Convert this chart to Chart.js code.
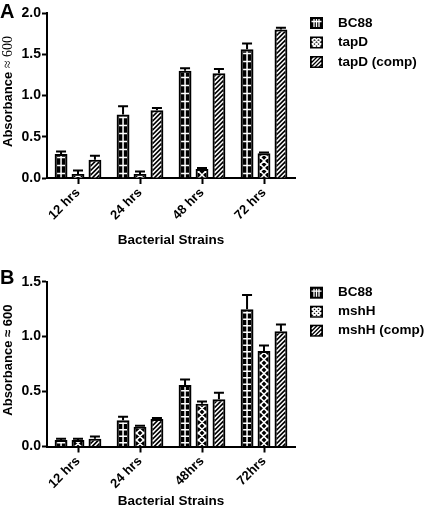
<!DOCTYPE html>
<html>
<head>
<meta charset="utf-8">
<script src="https://cdn.jsdelivr.net/npm/chart.js@4"></script>
<style>
  body { margin: 0; background: #fff; }
  .panel { position: absolute; left: 0; width: 425px; height: 255px; }
</style>
</head>
<body>
<div class="panel" style="top:0"><canvas id="chartA" width="425" height="255"></canvas></div>
<div class="panel" style="top:255px"><canvas id="chartB" width="425" height="255"></canvas></div>
<script>
// panel A
const timesA = ['12 hrs', '24 hrs', '48 hrs', '72 hrs'];
const bc88A = [0.29, 0.77, 1.30, 1.56];
const bc88ErrA = [0.03, 0.10, 0.03, 0.07];
const tapD = [0.05, 0.05, 0.11, 0.30];
const tapDErr = [0.04, 0.03, 0.01, 0.01];
const tapDComp = [0.22, 0.82, 1.27, 1.80];
const tapDCompErr = [0.05, 0.03, 0.05, 0.02];

// panel B
const timesB = ['12 hrs', '24 hrs', '48hrs', '72hrs'];
const bc88B = [0.06, 0.24, 0.56, 1.25];
const bc88ErrB = [0.01, 0.03, 0.05, 0.13];
const mshH = [0.06, 0.18, 0.39, 0.87];
const mshHErr = [0.01, 0.01, 0.02, 0.05];
const mshHComp = [0.07, 0.25, 0.43, 1.05];
const mshHCompErr = [0.02, 0.01, 0.06, 0.06];

const FONT = '"Liberation Sans", Arial, Helvetica, sans-serif';
const H = 255;

// white line fills inside a black bar
const drawPattern = (ctx, kind, x0, y0, x1, y1, steps) => {
    const w = x1 - x0;
    ctx.strokeStyle = '#fff';
    ctx.lineWidth = 1.5;
    ctx.beginPath();
    if (kind == 'plus') {
        const cx = (x0 + x1) / 2;
        ctx.moveTo(cx, y0); ctx.lineTo(cx, y1);
        for (let y = y1 - steps.plus / 2; y > y0; y -= steps.plus) {
            ctx.moveTo(x0 + 0.5, y); ctx.lineTo(x1 - 0.5, y);
        }
    } else if (kind == 'cross') {
        for (let y = y1 + w; y > y0 - w; y -= steps.cross) {
            ctx.moveTo(x0, y); ctx.lineTo(x1, y - w);
            ctx.moveTo(x0, y - w); ctx.lineTo(x1, y);
        }
    } else {
        for (let y = y1 + w; y > y0 - w; y -= steps.diag) {
            ctx.moveTo(x0, y); ctx.lineTo(x1, y - w);
        }
    }
    ctx.stroke();
}

const barsPlugin = {
    id: 'hatch',
    afterDatasetsDraw(chart, args, opts) {
        const ctx = chart.ctx;
        const yScale = chart.scales.y;
        chart.data.datasets.forEach((ds, i) => {
            chart.getDatasetMeta(i).data.forEach((bar, j) => {
                const p = bar.getProps(['x', 'y', 'base', 'width'], true);
                const x0 = p.x - p.width / 2 + 2, x1 = p.x + p.width / 2 - 2;
                const y0 = p.y + 2, y1 = p.base;
                if (y1 > y0) {
                    ctx.save();
                    ctx.beginPath();
                    ctx.rect(x0, y0, x1 - x0, y1 - y0);
                    ctx.clip();
                    drawPattern(ctx, ds.pattern, x0, y0, x1, y1, opts.steps);
                    ctx.restore();
                }
                // upper error bar
                const top = yScale.getPixelForValue(ds.data[j] + ds.errors[j]);
                ctx.save();
                ctx.strokeStyle = '#000';
                ctx.lineWidth = 2;
                ctx.beginPath();
                ctx.moveTo(p.x, p.y); ctx.lineTo(p.x, top);
                ctx.moveTo(p.x - 5, top); ctx.lineTo(p.x + 5, top);
                ctx.stroke();
                ctx.restore();
            });
        });
    }
};

const sidePlugin = {
    id: 'side',
    afterDraw(chart, args, opts) {
        const ctx = chart.ctx;
        const area = chart.chartArea;
        ctx.save();
        ctx.fillStyle = '#000';

        // panel letter
        ctx.font = 'bold 20px ' + FONT;
        ctx.textBaseline = 'alphabetic';
        ctx.fillText(opts.letter, 0, opts.letterY);

        // legend
        ctx.font = 'bold 13.5px ' + FONT;
        ctx.textBaseline = 'middle';
        chart.data.datasets.forEach((ds, i) => {
            const yc = opts.legendTop + i * opts.legendGap;
            const bx = 310, by = yc - 6, bw = 13, bh = 12;
            ctx.fillStyle = '#000';
            ctx.fillRect(bx, by, bw, bh);
            ctx.save();
            ctx.beginPath();
            ctx.rect(bx + 1.5, by + 1.5, bw - 3, bh - 3);
            ctx.clip();
            ctx.strokeStyle = '#fff';
            ctx.lineWidth = 1.3;
            if (ds.pattern == 'plus') {
                ctx.beginPath();
                ctx.moveTo(bx, by + 4.5); ctx.lineTo(bx + bw, by + 4.5);
                [4, 6.5, 9].forEach(dx => { ctx.moveTo(bx + dx, by + 2); ctx.lineTo(bx + dx, by + bh - 2); });
                ctx.stroke();
            } else {
                drawPattern(ctx, ds.pattern, bx + 1.5, by + 1.5, bx + bw - 1.5, by + bh - 1.5, { cross: 4, diag: 4 });
            }
            ctx.restore();
            ctx.fillStyle = '#000';
            ctx.fillText(ds.label, 338, yc);
        });

        // y axis title, mixed fonts
        ctx.translate(8, (area.top + area.bottom) / 2 + opts.titleShift);
        ctx.rotate(-Math.PI / 2);
        ctx.textBaseline = 'middle';
        let total = 0;
        opts.titleParts.forEach(t => { ctx.font = t.font; total += ctx.measureText(t.text).width; });
        let x = -total / 2;
        opts.titleParts.forEach(t => {
            ctx.font = t.font;
            ctx.fillText(t.text, x, t.dy || 0);
            x += ctx.measureText(t.text).width;
        });
        ctx.restore();
    }
};

const makeChart = (id, labels, sets, yMax, cfg) => {
    return new Chart(document.getElementById(id), {
        type: 'bar',
        data: {
            labels: labels,
            datasets: sets.map(s => ({
                label: s.label,
                data: s.data,
                errors: s.errors,
                pattern: s.pattern,
                backgroundColor: '#000',
                borderColor: '#000',
                borderWidth: 2,
                categoryPercentage: 0.82,
                barPercentage: 0.76
            }))
        },
        options: {
            responsive: false,
            devicePixelRatio: 1,
            animation: false,
            events: [],
            layout: { padding: { top: cfg.top, right: 130, left: 0, bottom: 0 } },
            plugins: {
                legend: { display: false },
                tooltip: { enabled: false },
                hatch: { steps: cfg.steps },
                side: cfg.side
            },
            scales: {
                x: {
                    offset: true,
                    grid: { drawOnChartArea: false, offset: false, tickLength: 6, tickWidth: 2, tickColor: '#000' },
                    border: { color: '#000', width: 2 },
                    ticks: {
                        color: '#000', padding: 1,
                        minRotation: 45, maxRotation: 45,
                        font: { family: FONT, size: 13, weight: 'bold' }
                    },
                    title: {
                        display: true, text: 'Bacterial Strains', color: '#000',
                        font: { family: FONT, size: 13.5, weight: 'bold' },
                        padding: { top: 0, bottom: cfg.titlePad }
                    },
                    afterFit: (scale) => { scale.height = H - cfg.bottom; }
                },
                y: {
                    min: 0,
                    max: yMax,
                    grid: { drawOnChartArea: false, tickLength: 5, tickWidth: 2, tickColor: '#000' },
                    border: { color: '#000', width: 2 },
                    ticks: {
                        stepSize: 0.5, color: '#000', padding: 1,
                        font: { family: FONT, size: 14, weight: 'bold' },
                        callback: (v) => v.toFixed(1)
                    },
                    afterFit: (scale) => { scale.width = 47; }
                }
            }
        },
        plugins: [barsPlugin, sidePlugin]
    });
}

makeChart('chartA', timesA, [
    { label: 'BC88', data: bc88A, errors: bc88ErrA, pattern: 'plus' },
    { label: 'tapD', data: tapD, errors: tapDErr, pattern: 'cross' },
    { label: 'tapD (comp)', data: tapDComp, errors: tapDCompErr, pattern: 'diag' }
], 2.0, {
    top: 13, bottom: 178, titlePad: 6.9,
    steps: { plus: 8, cross: 7, diag: 4.5 },
    side: {
        letter: 'A', letterY: 18, legendTop: 23, legendGap: 19.5, titleShift: -4,
        titleParts: [
            { text: 'Absorbance ', font: 'bold 13px ' + FONT },
            { text: '\u2248 600', font: '14px "Liberation Serif", "Times New Roman", serif' }
        ]
    }
});

makeChart('chartB', timesB, [
    { label: 'BC88', data: bc88B, errors: bc88ErrB, pattern: 'plus' },
    { label: 'mshH', data: mshH, errors: mshHErr, pattern: 'cross' },
    { label: 'mshH (comp)', data: mshHComp, errors: mshHCompErr, pattern: 'diag' }
], 1.5, {
    top: 26.7, bottom: 191.5, titlePad: 0.2,
    steps: { plus: 6.5, cross: 7, diag: 4.5 },
    side: {
        letter: 'B', letterY: 29, legendTop: 37.7, legendGap: 19, titleShift: -4,
        titleParts: [
            { text: 'Absorbance \u2248 600', font: 'bold 13px ' + FONT }
        ]
    }
});
</script>
</body>
</html>
